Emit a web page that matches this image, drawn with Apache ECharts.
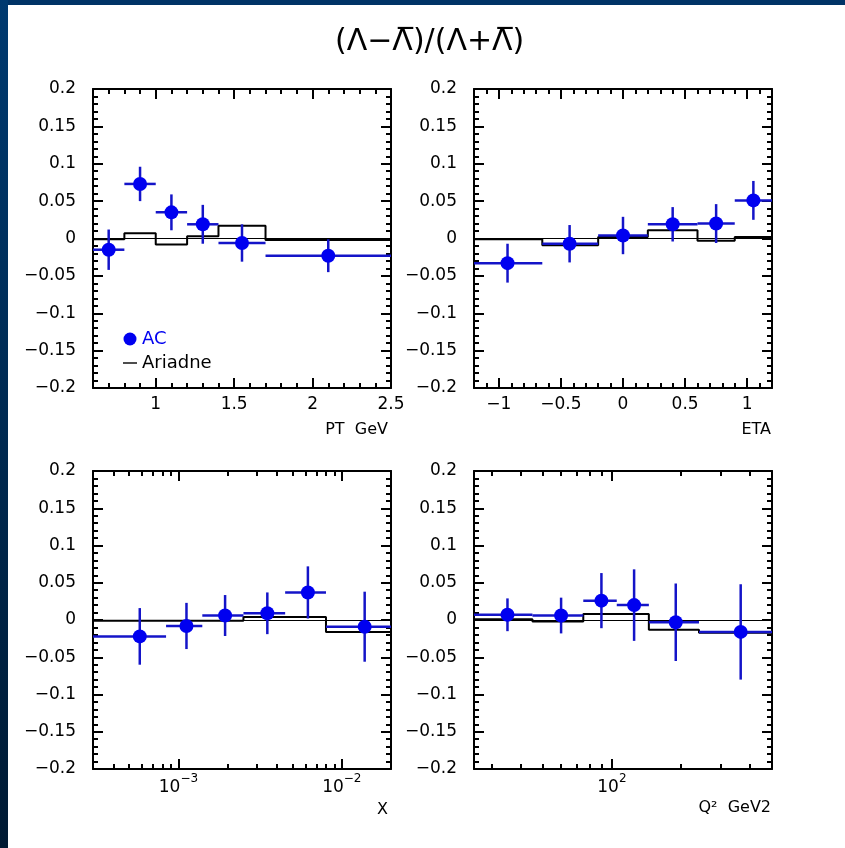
<!DOCTYPE html>
<html>
<head>
<meta charset="utf-8">
<script src="https://cdn.jsdelivr.net/npm/echarts@6/dist/echarts.min.js"></script>
<style>
html, body { margin: 0; padding: 0; background: #fff; }
#bandTop { position: absolute; left: 0; top: 0; width: 845px; height: 5px; background: #003366; }
#bandLeft { position: absolute; left: 0; top: 0; width: 8px; height: 848px; background: linear-gradient(to bottom, #003a70, #001a33); }
#main { position: absolute; left: 0; top: 0; width: 845px; height: 848px; }
</style>
</head>
<body>
<div id="bandTop"></div>
<div id="bandLeft"></div>
<div id="main"></div>
<script>
// PT panel
var ptEdges = [0.6, 0.8, 1.0, 1.2, 1.4, 1.7, 2.5];
var ptX = [0.70, 0.90, 1.10, 1.30, 1.55, 2.10];
var ptAC = [-0.015, 0.073, 0.035, 0.019, -0.006, -0.023];
var ptErr = [0.027, 0.023, 0.024, 0.026, 0.025, 0.022];
var ptAriadne = [-0.001, 0.007, -0.008, 0.003, 0.017, -0.002];
var ptMajor = [1, 1.5, 2, 2.5];

// ETA panel
var etaEdges = [-1.2, -0.65, -0.2, 0.2, 0.6, 0.9, 1.2];
var etaX = [-0.93, -0.43, 0.0, 0.40, 0.75, 1.05];
var etaAC = [-0.033, -0.007, 0.004, 0.019, 0.020, 0.051];
var etaErr = [0.026, 0.025, 0.025, 0.023, 0.026, 0.026];
var etaAriadne = [-0.001, -0.009, 0.002, 0.011, -0.003, 0.002];
var etaMajor = [-1, -0.5, 0, 0.5, 1];

// X panel (log)
var xEdges = [3e-4, 8.4e-4, 1.4e-3, 2.5e-3, 4.5e-3, 8e-3, 2e-2];
var xX = [5.8e-4, 1.12e-3, 1.93e-3, 3.5e-3, 6.2e-3, 1.38e-2];
var xAC = [-0.022, -0.008, 0.006, 0.009, 0.037, -0.009];
var xErr = [0.038, 0.031, 0.0275, 0.028, 0.035, 0.047];
var xAriadne = [-0.001, -0.001, -0.001, 0.004, 0.004, -0.016];
var xMajor = [1e-3, 1e-2];
var xMinor = [3e-4, 4e-4, 5e-4, 6e-4, 7e-4, 8e-4, 9e-4, 2e-3, 3e-3, 4e-3, 5e-3, 6e-3, 7e-3, 8e-3, 9e-3, 2e-2];

// Q2 panel (log)
var q2Edges = [25, 45, 75, 105, 145, 240, 500];
var q2X = [35, 60, 90, 125, 190, 365];
var q2AC = [0.007, 0.006, 0.026, 0.020, -0.003, -0.016];
var q2Err = [0.022, 0.024, 0.037, 0.048, 0.052, 0.064];
var q2Ariadne = [0.001, -0.002, 0.008, 0.008, -0.013, -0.017];
var q2Major = [100];
var q2Minor = [30, 40, 50, 60, 70, 80, 90, 200, 300, 400, 500];

var blue = '#0000f0';
var barBlue = '#1414c8';
var font = 'DejaVu Sans';

var dom = document.getElementById('main');
var myChart = echarts.init(dom);

var grids = [
    {left: 93, top: 89, width: 298, height: 299, outerBoundsMode: 'none'},
    {left: 474, top: 89, width: 298, height: 299, outerBoundsMode: 'none'},
    {left: 93, top: 471, width: 298, height: 298, outerBoundsMode: 'none'},
    {left: 474, top: 471, width: 298, height: 298, outerBoundsMode: 'none'}
];

function minusSign(s) {
    return String(s).replace('-', '\u2212');
}
function fmtLin(v) {
    return minusSign(Math.round(v * 1000) / 1000);
}
function fmtLog(v) {
    var l = Math.log10(v);
    var e = Math.round(l);
    if (Math.abs(l - e) > 1e-6) return '';
    return '{b|10}{s|' + minusSign(e) + '}';
}
var tickLine = {color: '#000', width: 2};

var xAxes = [];
var yAxes = [];

function addX(gi, cfg) {
    ['bottom', 'top'].forEach(function (pos) {
        // major ticks + labels
        xAxes.push({
            gridIndex: gi, type: cfg.type, position: pos, min: cfg.min, max: cfg.max,
            axisLine: {show: pos === 'bottom', onZero: false, lineStyle: tickLine},
            axisTick: {show: true, inside: true, length: 10, lineStyle: tickLine, customValues: cfg.major},
            axisLabel: {
                show: pos === 'bottom', customValues: cfg.major, margin: cfg.type === 'log' ? 4 : 8,
                formatter: cfg.type === 'log' ? fmtLog : fmtLin,
                color: '#000', fontSize: 17, fontFamily: font,
                rich: {
                    b: {fontSize: 17, fontFamily: font, color: '#000', lineHeight: 30},
                    s: {fontSize: 12, fontFamily: font, color: '#000', lineHeight: 14, verticalAlign: 'top'}
                }
            },
            splitLine: {show: false}
        });
        // minor ticks
        var minor = {
            gridIndex: gi, type: cfg.type, position: pos, min: cfg.min, max: cfg.max,
            axisLine: {show: pos === 'top', onZero: false, lineStyle: tickLine},
            axisTick: {show: true, inside: true, length: 5, lineStyle: tickLine},
            axisLabel: {show: false},
            splitLine: {show: false}
        };
        if (cfg.type === 'log') {
            minor.axisTick.customValues = cfg.minor;
        } else {
            minor.interval = cfg.minorStep;
        }
        xAxes.push(minor);
    });
}

function addY(gi) {
    ['left', 'right'].forEach(function (pos) {
        yAxes.push({
            gridIndex: gi, type: 'value', position: pos, min: -0.2, max: 0.2, interval: 0.05,
            axisLine: {show: true, onZero: false, lineStyle: tickLine},
            axisTick: {show: true, inside: true, length: 10, lineStyle: tickLine},
            minorTick: {show: true, splitNumber: 5, length: 5, lineStyle: tickLine},
            axisLabel: {show: pos === 'left', margin: 17, formatter: fmtLin, color: '#000', fontSize: 17, fontFamily: font},
            splitLine: {show: false},
            minorSplitLine: {show: false}
        });
    });
}

addX(0, {type: 'value', min: 0.6, max: 2.5, major: ptMajor, minorStep: 0.1});
addX(1, {type: 'value', min: -1.2, max: 1.2, major: etaMajor, minorStep: 0.1});
addX(2, {type: 'log', min: 3e-4, max: 2e-2, major: xMajor, minor: xMinor});
addX(3, {type: 'log', min: 25, max: 500, major: q2Major, minor: q2Minor});
for (var g = 0; g < 4; g++) addY(g);

function histData(edges, vals) {
    var d = [];
    for (var i = 0; i < vals.length; i++) d.push([edges[i], vals[i]]);
    d.push([edges[edges.length - 1], vals[vals.length - 1]]);
    return d;
}

function errBars(params, api) {
    var x = api.value(0), y = api.value(1), e = api.value(2);
    var lo = api.value(3), hi = api.value(4);
    var a = api.coord([lo, y]), b = api.coord([hi, y]);
    var c = api.coord([x, y - e]), d = api.coord([x, y + e]);
    var st = {stroke: barBlue, lineWidth: 2.5};
    return {
        type: 'group',
        children: [
            {type: 'line', shape: {x1: a[0], y1: a[1], x2: b[0], y2: b[1]}, style: st},
            {type: 'line', shape: {x1: c[0], y1: c[1], x2: d[0], y2: d[1]}, style: st}
        ]
    };
}

var panels = [
    {edges: ptEdges, x: ptX, ac: ptAC, err: ptErr, ari: ptAriadne},
    {edges: etaEdges, x: etaX, ac: etaAC, err: etaErr, ari: etaAriadne},
    {edges: xEdges, x: xX, ac: xAC, err: xErr, ari: xAriadne},
    {edges: q2Edges, x: q2X, ac: q2AC, err: q2Err, ari: q2Ariadne}
];

var series = [];
panels.forEach(function (p, gi) {
    var xi = gi * 4, yi = gi * 2;
    series.push({
        name: 'AC', type: 'scatter', xAxisIndex: xi, yAxisIndex: yi,
        data: p.x.map(function (v, i) { return [v, p.ac[i]]; }),
        symbol: 'circle', symbolSize: 14,
        itemStyle: {color: blue, opacity: 1},
        z: 6
    });
    series.push({
        name: 'Ariadne', type: 'line', xAxisIndex: xi, yAxisIndex: yi,
        data: histData(p.edges, p.ari),
        step: 'end', symbol: 'none',
        lineStyle: {color: '#000', width: 2},
        itemStyle: {color: '#000'},
        z: 3,
        markLine: {
            silent: true, symbol: 'none', label: {show: false},
            lineStyle: {color: '#000', width: 1, type: 'solid'},
            data: [{yAxis: 0}]
        }
    });
    series.push({
        name: 'AC err', type: 'custom', xAxisIndex: xi, yAxisIndex: yi,
        data: p.x.map(function (v, i) { return [v, p.ac[i], p.err[i], p.edges[i], p.edges[i + 1]]; }),
        renderItem: errBars,
        encode: {x: 0, y: 1},
        z: 5
    });
});

var nameStyle = {color: '#000', fontSize: 16, fontWeight: 'normal', fontFamily: font};

myChart.setOption({
    animation: false,
    backgroundColor: 'transparent',
    title: [
        {text: '(\u039B\u2212\u039B\u0305)/(\u039B+\u039B\u0305)', left: 335, top: 27, padding: 0,
            textStyle: {color: '#000', fontSize: 30, fontWeight: 'normal', fontFamily: font}},
        {text: 'PT  GeV', right: 457, top: 422, padding: 0, textStyle: nameStyle},
        {text: 'ETA', right: 74, top: 422, padding: 0, textStyle: nameStyle},
        {text: 'X', right: 457, top: 802, padding: 0, textStyle: nameStyle},
        {text: 'Q\u00B2  GeV2', right: 74, top: 800, padding: 0, textStyle: nameStyle}
    ],
    legend: {
        left: 123, top: 330, orient: 'vertical', padding: 0, itemGap: 6,
        itemWidth: 14, itemHeight: 13, selectedMode: false,
        textStyle: {fontSize: 18, fontFamily: font},
        data: [
            {name: 'AC', icon: 'circle', itemStyle: {opacity: 1}, textStyle: {color: blue}},
            {name: 'Ariadne', icon: 'path://M0,0H20V2H0Z', textStyle: {color: '#000'}}
        ]
    },
    grid: grids,
    xAxis: xAxes,
    yAxis: yAxes,
    series: series
});
window.addEventListener('resize', function () {
    myChart.resize();
});
</script>
</body>
</html>
